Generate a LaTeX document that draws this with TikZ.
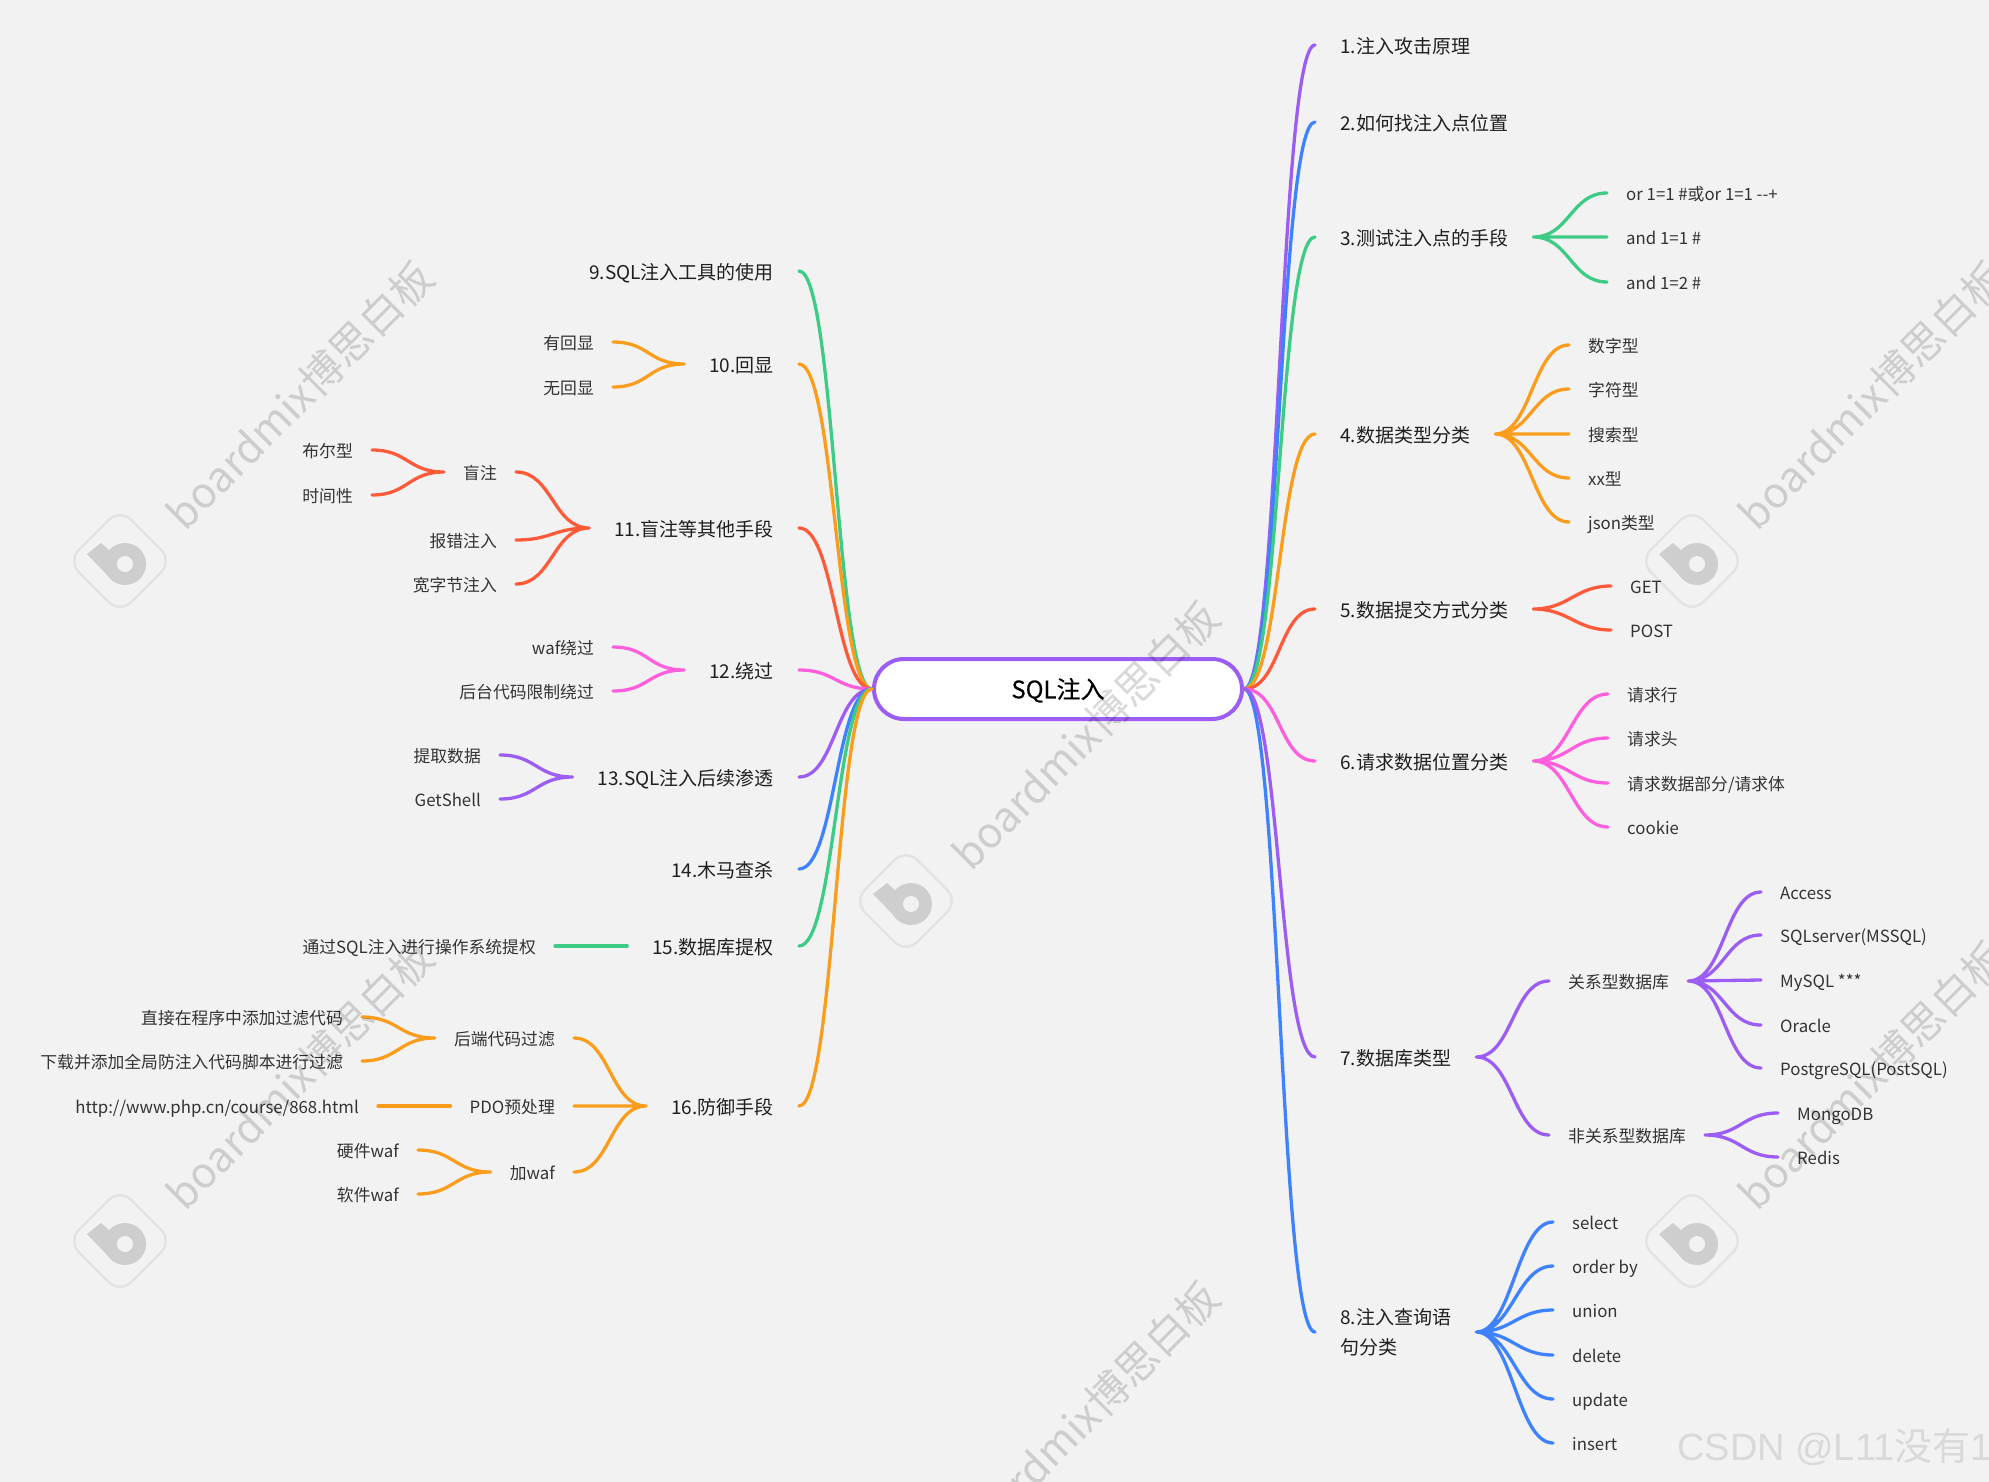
\documentclass[tikz,border=0pt]{standalone}
\usepackage{fontspec}
\setmainfont{Noto Sans CJK SC}
\newfontfamily\rootfont[FakeBold=0.4]{Noto Sans CJK SC}
\newfontfamily\csdnfont{Liberation Sans}
\newfontfamily\csdncjk{Noto Sans CJK SC}
\definecolor{bgcol}{HTML}{F2F2F2}
\definecolor{wmgray}{HTML}{CECECE}
\definecolor{cpurple}{HTML}{9B5DF3}
\definecolor{cblue}{HTML}{3E82FF}
\definecolor{cgreen}{HTML}{3DCB85}
\definecolor{corange}{HTML}{FA9C1C}
\definecolor{cred}{HTML}{FF5B3B}
\definecolor{cpink}{HTML}{FF5FDC}
\tikzset{
  rootnode/.style={draw=cpurple,fill=white,line width=4pt,rounded corners=30pt,minimum width=368pt,minimum height=60pt,text height=23pt,text depth=4.5pt,font=\fontsize{24pt}{29pt}\selectfont\rootfont},
  topic/.style={inner xsep=25pt,inner ysep=0pt,text height=20.5pt,text depth=3pt,text=black!88,font=\fontsize{19pt}{30pt}\selectfont},
  leaf/.style={inner xsep=19pt,inner ysep=0pt,text height=18pt,text depth=3pt,text=black!80,font=\fontsize{16.8pt}{20pt}\selectfont},
  branch/.style={line width=3.3pt,line cap=round},
  wire/.style={out=0,in=180,distance=36pt},
  markword/.style={rotate=45,text=black,text opacity=.15,font=\fontsize{42pt}{50pt}\selectfont},
}
\begin{document}
\begin{tikzpicture}[x=1pt,y=-1pt]
  \useasboundingbox (0,0) rectangle (1989,1482);
  \fill[bgcol] (0,0) rectangle (1989,1482);
  % 中心
  \node[rootnode] (root) at (1058,689) {SQL注入};
  % 右侧主题
  \node[topic,anchor=west] (t1) at (1315,45) {1.注入攻击原理};
  \node[topic,anchor=west] (t2) at (1315,122) {2.如何找注入点位置};
  \node[topic,anchor=west] (t3) at (1315,237) {3.测试注入点的手段};
  \node[topic,anchor=west] (t4) at (1315,434) {4.数据类型分类};
  \node[topic,anchor=west] (t5) at (1315,609) {5.数据提交方式分类};
  \node[topic,anchor=west] (t6) at (1315,761) {6.请求数据位置分类};
  \node[topic,anchor=west] (t7) at (1315,1057) {7.数据库类型};
  \node[topic,anchor=west,align=left,text height=,text depth=] (t8) at (1315,1332) {8.注入查询语\\句分类};
  % 左侧主题
  \node[topic,anchor=east] (t9) at (799,271) {9.SQL注入工具的使用};
  \node[topic,anchor=east] (t10) at (799,364) {10.回显};
  \node[topic,anchor=east] (t11) at (799,528) {11.盲注等其他手段};
  \node[topic,anchor=east] (t12) at (799,670) {12.绕过};
  \node[topic,anchor=east] (t13) at (799,777) {13.SQL注入后续渗透};
  \node[topic,anchor=east] (t14) at (799,869) {14.木马查杀};
  \node[topic,anchor=east] (t15) at (799,946) {15.数据库提权};
  \node[topic,anchor=east] (t16) at (799,1106) {16.防御手段};
  % 右侧子项
  \node[leaf,anchor=west] (s31) at (1607,193) {or 1=1 \#或or 1=1 -{}-+};
  \node[leaf,anchor=west] (s32) at (1607,237) {and 1=1 \#};
  \node[leaf,anchor=west] (s33) at (1607,282) {and 1=2 \#};
  \node[leaf,anchor=west] (s41) at (1569,345) {数字型};
  \node[leaf,anchor=west] (s42) at (1569,389) {字符型};
  \node[leaf,anchor=west] (s43) at (1569,434) {搜索型};
  \node[leaf,anchor=west] (s44) at (1569,478) {xx型};
  \node[leaf,anchor=west] (s45) at (1569,522) {json类型};
  \node[leaf,anchor=west] (s51) at (1611,586) {GET};
  \node[leaf,anchor=west] (s52) at (1611,630) {POST};
  \node[leaf,anchor=west] (s61) at (1608,694) {请求行};
  \node[leaf,anchor=west] (s62) at (1608,738) {请求头};
  \node[leaf,anchor=west] (s63) at (1608,783) {请求数据部分/请求体};
  \node[leaf,anchor=west] (s64) at (1608,827) {cookie};
  \node[leaf,anchor=west] (s71) at (1549,981) {关系型数据库};
  \node[leaf,anchor=west] (s72) at (1549,1135) {非关系型数据库};
  \node[leaf,anchor=west] (r1) at (1761,892) {Access};
  \node[leaf,anchor=west] (r2) at (1761,935) {SQLserver(MSSQL)};
  \node[leaf,anchor=west] (r3) at (1761,980) {MySQL ***};
  \node[leaf,anchor=west] (r4) at (1761,1025) {Oracle};
  \node[leaf,anchor=west] (r5) at (1761,1068) {PostgreSQL(PostSQL)};
  \node[leaf,anchor=west] (n1) at (1778,1113) {MongoDB};
  \node[leaf,anchor=west] (n2) at (1778,1157) {Redis};
  \node[leaf,anchor=west] (s81) at (1553,1222) {select};
  \node[leaf,anchor=west] (s82) at (1553,1266) {order by};
  \node[leaf,anchor=west] (s83) at (1553,1310) {union};
  \node[leaf,anchor=west] (s84) at (1553,1355) {delete};
  \node[leaf,anchor=west] (s85) at (1553,1399) {update};
  \node[leaf,anchor=west] (s86) at (1553,1443) {insert};
  % 左侧子项
  \node[leaf,anchor=east] (l101) at (613,342) {有回显};
  \node[leaf,anchor=east] (l102) at (613,387) {无回显};
  \node[leaf,anchor=east] (l111) at (516,472) {盲注};
  \node[leaf,anchor=east] (l112) at (516,540) {报错注入};
  \node[leaf,anchor=east] (l113) at (516,584) {宽字节注入};
  \node[leaf,anchor=east] (b1) at (372,450) {布尔型};
  \node[leaf,anchor=east] (b2) at (372,495) {时间性};
  \node[leaf,anchor=east] (l121) at (613,647) {waf绕过};
  \node[leaf,anchor=east] (l122) at (613,691) {后台代码限制绕过};
  \node[leaf,anchor=east] (l131) at (500,755) {提取数据};
  \node[leaf,anchor=east] (l132) at (500,799) {GetShell};
  \node[leaf,anchor=east] (l151) at (555,946) {通过SQL注入进行操作系统提权};
  \node[leaf,anchor=east] (l161) at (574,1038) {后端代码过滤};
  \node[leaf,anchor=east] (l162) at (574,1106) {PDO预处理};
  \node[leaf,anchor=east] (l163) at (574,1172) {加waf};
  \node[leaf,anchor=east] (d1) at (362,1017) {直接在程序中添加过滤代码};
  \node[leaf,anchor=east] (d2) at (362,1061) {下载并添加全局防注入代码脚本进行过滤};
  \node[leaf,anchor=east] (p1) at (378,1106) {http://www.php.cn/course/868.html};
  \node[leaf,anchor=east] (w1) at (418,1150) {硬件waf};
  \node[leaf,anchor=east] (w2) at (418,1194) {软件waf};
  % 右侧连线
  \draw[branch,cpurple] (root.east) to[wire] (t1.west);
  \draw[branch,cblue] (root.east) to[wire] (t2.west);
  \draw[branch,cgreen] (root.east) to[wire] (t3.west);
  \draw[branch,corange] (root.east) to[wire] (t4.west);
  \draw[branch,cred] (root.east) to[wire] (t5.west);
  \draw[branch,cpink] (root.east) to[wire] (t6.west);
  \draw[branch,cblue] (root.east) to[wire] (t8.west);
  \draw[branch,cpurple] (root.east) to[wire] (t7.west);
  \draw[branch,cgreen] (t3.east) to[wire] (s31.west) (t3.east) to[wire] (s32.west) (t3.east) to[wire] (s33.west);
  \draw[branch,corange] (t4.east) to[wire] (s41.west) (t4.east) to[wire] (s42.west) (t4.east) to[wire] (s43.west) (t4.east) to[wire] (s44.west) (t4.east) to[wire] (s45.west);
  \draw[branch,cred] (t5.east) to[wire] (s51.west) (t5.east) to[wire] (s52.west);
  \draw[branch,cpink] (t6.east) to[wire] (s61.west) (t6.east) to[wire] (s62.west) (t6.east) to[wire] (s63.west) (t6.east) to[wire] (s64.west);
  \draw[branch,cpurple] (t7.east) to[wire] (s71.west) (t7.east) to[wire] (s72.west);
  \draw[branch,cpurple] (s71.east) to[wire] (r1.west) (s71.east) to[wire] (r2.west) (s71.east) to[wire] (r3.west) (s71.east) to[wire] (r4.west) (s71.east) to[wire] (r5.west);
  \draw[branch,cpurple] (s72.east) to[wire] (n1.west) (s72.east) to[wire] (n2.west);
  \draw[branch,cblue] (t8.east) to[wire] (s81.west) (t8.east) to[wire] (s82.west) (t8.east) to[wire] (s83.west) (t8.east) to[wire] (s84.west) (t8.east) to[wire] (s85.west) (t8.east) to[wire] (s86.west);
  % 左侧连线
  \draw[branch,cgreen] (t9.east) to[wire] (root.west);
  \draw[branch,corange] (t10.east) to[wire] (root.west);
  \draw[branch,cred] (t11.east) to[wire] (root.west);
  \draw[branch,cpink] (t12.east) to[wire] (root.west);
  \draw[branch,cpurple] (t13.east) to[wire] (root.west);
  \draw[branch,cblue] (t14.east) to[wire] (root.west);
  \draw[branch,cgreen] (t15.east) to[wire] (root.west);
  \draw[branch,corange] (t16.east) to[wire] (root.west);
  \draw[branch,corange] (l101.east) to[wire] (t10.west) (l102.east) to[wire] (t10.west);
  \draw[branch,cred] (l111.east) to[wire] (t11.west) (l112.east) to[wire] (t11.west) (l113.east) to[wire] (t11.west);
  \draw[branch,cred] (b1.east) to[wire] (l111.west) (b2.east) to[wire] (l111.west);
  \draw[branch,cpink] (l121.east) to[wire] (t12.west) (l122.east) to[wire] (t12.west);
  \draw[branch,cpurple] (l131.east) to[wire] (t13.west) (l132.east) to[wire] (t13.west);
  \draw[branch,cgreen] (l151.east) to[wire] (t15.west);
  \draw[branch,corange] (l161.east) to[wire] (t16.west) (l162.east) to[wire] (t16.west) (l163.east) to[wire] (t16.west);
  \draw[branch,corange] (d1.east) to[wire] (l161.west) (d2.east) to[wire] (l161.west);
  \draw[branch,corange] (p1.east) to[wire] (l162.west);
  \draw[branch,corange] (w1.east) to[wire] (l163.west) (w2.east) to[wire] (l163.west);
  % 水印
  \begin{scope}
    \clip (0,0) rectangle (1989,1482);
    \foreach \wx/\wy [count=\wi] in {300/395,300/1075,1086/735,1086/1415,1872/395,1872/1075} {
      \node[markword] (wm\wi) at (\wx,\wy) {boardmix博思白板};
      \begin{scope}[shift={(\wx-180,\wy+166)}]
        \draw[black,opacity=.06,line width=2.5pt,rotate=45,rounded corners=16pt] (-37,-37) rectangle (37,37);
        \fill[wmgray] (-33,-7) -- (-19,-18) -- (5,3) -- (5,24) -- (-7,20) -- cycle;
        \fill[wmgray] (5,3) circle (21);
        \fill[bgcol] (5,3) circle (8);
      \end{scope}
    }
    \node[anchor=west,inner sep=0pt,text=black!15,font=\fontsize{38pt}{42pt}\selectfont\csdnfont] (csdn) at (1677,1447) {CSDN @L11{\csdncjk 没有}1};
  \end{scope}
\end{tikzpicture}
\end{document}
